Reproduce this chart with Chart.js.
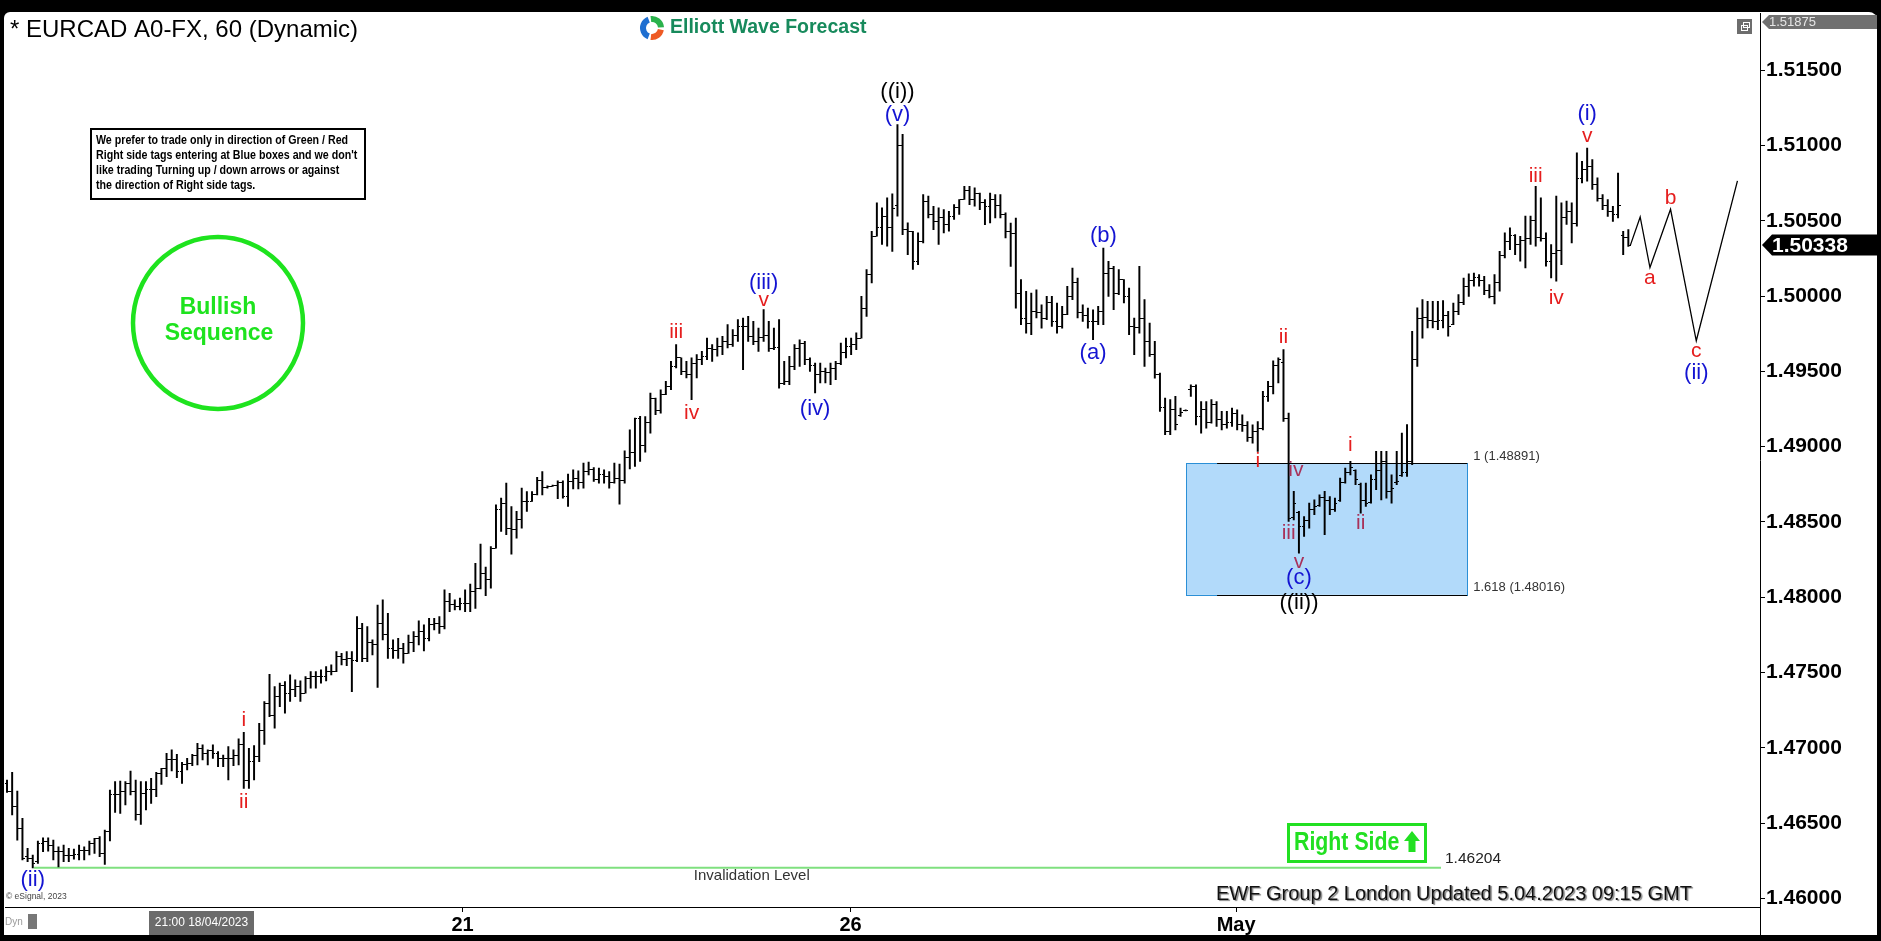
<!DOCTYPE html>
<html>
<head>
<meta charset="utf-8">
<title>EURCAD 60</title>
<script src="https://cdn.jsdelivr.net/npm/chart.js@4.4.1/dist/chart.umd.min.js"></script>
<style>
  html, body { margin: 0; padding: 0; background: #000; overflow: hidden; }
  canvas { display: block; }
</style>
</head>
<body>
<canvas id="chart" width="1881" height="941"></canvas>
<script>
// ---- hourly EURCAD bars, one entry per hour ----
const opens = [
  1.46765,1.46714,1.46610,1.46466,1.46278,1.46267,1.46245,1.46366,1.46377,1.46355,
  1.46311,1.46311,1.46289,1.46289,1.46293,1.46322,1.46322,1.46366,1.46400,1.46300,
  1.46444,1.46688,1.46688,1.46710,1.46765,1.46710,1.46555,1.46699,1.46721,1.46721,
  1.46832,1.46865,1.46920,1.46920,1.46843,1.46887,1.46898,1.46953,1.46998,1.46964,
  1.46980,1.46964,1.46927,1.46927,1.46931,1.46953,1.47024,1.46787,1.46909,1.46942,
  1.47119,1.47297,1.47215,1.47341,1.47414,1.47363,1.47385,1.47407,1.47363,1.47463,
  1.47474,1.47474,1.47474,1.47507,1.47507,1.47607,1.47584,1.47595,1.47580,1.47795,
  1.47595,1.47700,1.47684,1.47828,1.47750,1.47661,1.47650,1.47661,1.47628,1.47700,
  1.47739,1.47772,1.47728,1.47817,1.47828,1.47805,1.47971,1.47949,1.47938,1.47960,
  1.47960,1.48038,1.48060,1.48160,1.48115,1.48326,1.48580,1.48625,1.48459,1.48448,
  1.48519,1.48636,1.48636,1.48680,1.48775,1.48730,1.48738,1.48740,1.48760,1.48669,
  1.48770,1.48790,1.48760,1.48835,1.48850,1.48785,1.48815,1.48800,1.48760,1.48790,
  1.48775,1.48929,1.48960,1.49185,1.49010,1.49160,1.49323,1.49240,1.49345,1.49400,
  1.49530,1.49589,1.49500,1.49478,1.49555,1.49578,1.49600,1.49655,1.49644,1.49666,
  1.49700,1.49677,1.49740,1.49800,1.49800,1.49730,1.49700,1.49722,1.49740,1.49655,
  1.49660,1.49420,1.49430,1.49533,1.49655,1.49688,1.49580,1.49540,1.49480,1.49500,
  1.49490,1.49520,1.49555,1.49622,1.49666,1.49680,1.49721,1.49920,1.50142,1.50397,
  1.50452,1.50530,1.50452,1.50600,1.51000,1.50440,1.50430,1.50230,1.50360,1.50630,
  1.50541,1.50497,1.50519,1.50474,1.50530,1.50585,1.50641,1.50700,1.50640,1.50684,
  1.50620,1.50596,1.50640,1.50600,1.50540,1.50430,1.50418,1.50020,1.49850,1.49820,
  1.49900,1.49890,1.49850,1.49960,1.49830,1.49800,1.49880,1.50000,1.50090,1.49890,
  1.49870,1.49830,1.49830,1.49900,1.50150,1.50180,1.50020,1.50109,1.50000,1.49800,
  1.49790,1.49850,1.49700,1.49611,1.49480,1.49260,1.49100,1.49250,1.49210,1.49240,
  1.49380,1.49400,1.49200,1.49245,1.49160,1.49280,1.49180,1.49150,1.49160,1.49220,
  1.49145,1.49140,1.49060,1.49100,1.49120,1.49330,1.49400,1.49540,1.49560,1.49190,
  1.48530,1.48560,1.48470,1.48510,1.48580,1.48610,1.48660,1.48640,1.48580,1.48640,
  1.48760,1.48830,1.48840,1.48750,1.48640,1.48630,1.48780,1.48840,1.48900,1.48700,
  1.48760,1.48810,1.48830,1.48900,1.49580,1.49850,1.49860,1.49840,1.49830,1.49840,
  1.49870,1.49810,1.49900,1.49960,1.50060,1.50100,1.50120,1.50100,1.50040,1.50000,
  1.50090,1.50270,1.50360,1.50400,1.50340,1.50370,1.50380,1.50500,1.50390,1.50380,
  1.50230,1.50280,1.50300,1.50520,1.50560,1.50480,1.50780,1.50840,1.50860,1.50740,
  1.50650,1.50600,1.50560,1.50540,1.50400,1.50390
];
const highs = [
  1.46787,1.46838,1.46714,1.46532,1.46333,1.46289,1.46382,1.46404,1.46404,1.46388,
  1.46344,1.46355,1.46333,1.46329,1.46355,1.46344,1.46382,1.46400,1.46411,1.46455,
  1.46721,1.46776,1.46780,1.46776,1.46847,1.46787,1.46776,1.46776,1.46798,1.46838,
  1.46865,1.46964,1.46987,1.46958,1.46904,1.46931,1.46958,1.47031,1.47020,1.46987,
  1.47020,1.46976,1.46953,1.47009,1.46987,1.47060,1.47104,1.46998,1.47015,1.47164,
  1.47308,1.47489,1.47407,1.47430,1.47441,1.47485,1.47452,1.47445,1.47474,1.47507,
  1.47507,1.47518,1.47540,1.47551,1.47640,1.47628,1.47639,1.47639,1.47872,1.47828,
  1.47805,1.47717,1.47949,1.47983,1.47894,1.47717,1.47728,1.47695,1.47750,1.47772,
  1.47843,1.47817,1.47861,1.47861,1.47872,1.48049,1.48027,1.47983,1.47994,1.48049,
  1.48087,1.48226,1.48353,1.48200,1.48337,1.48614,1.48658,1.48758,1.48603,1.48570,
  1.48725,1.48702,1.48702,1.48796,1.48835,1.48740,1.48745,1.48773,1.48773,1.48818,
  1.48846,1.48840,1.48891,1.48897,1.48862,1.48858,1.48846,1.48835,1.48891,1.48884,
  1.48973,1.49112,1.49190,1.49201,1.49200,1.49356,1.49323,1.49378,1.49434,1.49566,
  1.49677,1.49589,1.49566,1.49589,1.49611,1.49633,1.49721,1.49677,1.49721,1.49733,
  1.49810,1.49777,1.49843,1.49854,1.49865,1.49832,1.49788,1.49910,1.49832,1.49788,
  1.49843,1.49566,1.49600,1.49677,1.49710,1.49699,1.49589,1.49555,1.49555,1.49522,
  1.49555,1.49566,1.49688,1.49721,1.49721,1.49755,1.49998,1.50176,1.50430,1.50619,
  1.50585,1.50652,1.50678,1.51139,1.51073,1.50486,1.50430,1.50419,1.50674,1.50663,
  1.50596,1.50585,1.50574,1.50563,1.50607,1.50641,1.50729,1.50729,1.50718,1.50684,
  1.50640,1.50684,1.50673,1.50673,1.50552,1.50485,1.50518,1.50109,1.50031,1.50020,
  1.50042,1.49942,1.49998,1.49998,1.49954,1.49931,1.50064,1.50186,1.50120,1.49942,
  1.49920,1.49909,1.49931,1.50319,1.50230,1.50197,1.50175,1.50109,1.50053,1.49854,
  1.50197,1.49976,1.49821,1.49699,1.49489,1.49323,1.49312,1.49334,1.49256,1.49245,
  1.49411,1.49411,1.49300,1.49300,1.49312,1.49300,1.49234,1.49234,1.49256,1.49245,
  1.49212,1.49167,1.49145,1.49167,1.49367,1.49434,1.49570,1.49589,1.49644,1.49223,
  1.48703,1.48570,1.48536,1.48625,1.48647,1.48680,1.48703,1.48669,1.48658,1.48791,
  1.48858,1.48902,1.48847,1.48758,1.48758,1.48813,1.48969,1.48969,1.48969,1.48813,
  1.48969,1.49090,1.49146,1.49766,1.49921,1.49976,1.49965,1.49965,1.49965,1.49970,
  1.49899,1.49954,1.50009,1.50120,1.50147,1.50153,1.50142,1.50131,1.50076,1.50142,
  1.50297,1.50419,1.50452,1.50408,1.50397,1.50530,1.50530,1.50729,1.50652,1.50419,
  1.50342,1.50663,1.50619,1.50630,1.50619,1.50951,1.50895,1.50983,1.50906,1.50784,
  1.50673,1.50640,1.50596,1.50817,1.50430,1.50441
];
const lows = [
  1.46705,1.46555,1.46388,1.46256,1.46245,1.46204,1.46234,1.46311,1.46315,1.46256,
  1.46210,1.46245,1.46245,1.46262,1.46256,1.46256,1.46289,1.46300,1.46278,1.46227,
  1.46382,1.46572,1.46566,1.46621,1.46688,1.46521,1.46493,1.46588,1.46632,1.46676,
  1.46758,1.46809,1.46847,1.46803,1.46765,1.46854,1.46882,1.46887,1.46920,1.46887,
  1.46931,1.46876,1.46876,1.46787,1.46882,1.46887,1.46732,1.46732,1.46787,1.46909,
  1.47024,1.47208,1.47131,1.47274,1.47230,1.47308,1.47341,1.47308,1.47363,1.47396,
  1.47396,1.47430,1.47445,1.47485,1.47507,1.47551,1.47546,1.47374,1.47573,1.47573,
  1.47573,1.47617,1.47402,1.47717,1.47595,1.47595,1.47595,1.47562,1.47628,1.47639,
  1.47684,1.47644,1.47710,1.47783,1.47761,1.47790,1.47905,1.47916,1.47916,1.47905,
  1.47905,1.47927,1.48056,1.48011,1.48060,1.48326,1.48437,1.48415,1.48286,1.48392,
  1.48459,1.48570,1.48636,1.48680,1.48680,1.48725,1.48736,1.48654,1.48658,1.48603,
  1.48720,1.48720,1.48725,1.48813,1.48769,1.48758,1.48758,1.48725,1.48758,1.48618,
  1.48758,1.48853,1.48869,1.48902,1.48964,1.49090,1.49212,1.49223,1.49345,1.49378,
  1.49522,1.49478,1.49456,1.49312,1.49456,1.49544,1.49578,1.49566,1.49600,1.49611,
  1.49655,1.49666,1.49699,1.49511,1.49699,1.49677,1.49633,1.49699,1.49633,1.49644,
  1.49389,1.49411,1.49411,1.49511,1.49533,1.49544,1.49500,1.49356,1.49423,1.49423,
  1.49411,1.49445,1.49544,1.49589,1.49611,1.49644,1.49721,1.49865,1.50087,1.50397,
  1.50342,1.50331,1.50297,1.50530,1.50408,1.50275,1.50176,1.50209,1.50353,1.50519,
  1.50441,1.50342,1.50419,1.50430,1.50508,1.50541,1.50641,1.50607,1.50596,1.50574,
  1.50474,1.50485,1.50518,1.50518,1.50385,1.50197,1.49920,1.49810,1.49754,1.49743,
  1.49854,1.49787,1.49843,1.49798,1.49754,1.49787,1.49876,1.49976,1.49854,1.49832,
  1.49787,1.49710,1.49810,1.49810,1.49998,1.49909,1.50009,1.49954,1.49743,1.49610,
  1.49754,1.49533,1.49599,1.49455,1.49234,1.49079,1.49079,1.49112,1.49201,1.49238,
  1.49334,1.49145,1.49090,1.49123,1.49156,1.49134,1.49112,1.49123,1.49134,1.49112,
  1.49101,1.49035,1.49023,1.48968,1.49112,1.49301,1.49350,1.49423,1.49168,1.48503,
  1.48514,1.48293,1.48404,1.48459,1.48548,1.48603,1.48415,1.48548,1.48570,1.48636,
  1.48758,1.48813,1.48747,1.48559,1.48603,1.48625,1.48714,1.48647,1.48658,1.48625,
  1.48747,1.48802,1.48802,1.48880,1.49533,1.49721,1.49788,1.49788,1.49777,1.49788,
  1.49733,1.49810,1.49876,1.49943,1.49998,1.50065,1.50065,1.50009,1.49987,1.49947,
  1.50032,1.50253,1.50308,1.50275,1.50231,1.50187,1.50342,1.50331,1.50364,1.50198,
  1.50120,1.50098,1.50209,1.50475,1.50353,1.50464,1.50751,1.50763,1.50707,1.50629,
  1.50574,1.50529,1.50496,1.50518,1.50275,1.50330
];
const closes = [
  1.46714,1.46610,1.46466,1.46267,1.46267,1.46234,1.46366,1.46377,1.46355,1.46311,
  1.46311,1.46289,1.46289,1.46293,1.46322,1.46322,1.46366,1.46400,1.46300,1.46444,
  1.46688,1.46688,1.46710,1.46765,1.46710,1.46555,1.46699,1.46721,1.46721,1.46832,
  1.46865,1.46920,1.46920,1.46843,1.46887,1.46898,1.46953,1.46998,1.46964,1.46980,
  1.46964,1.46927,1.46927,1.46931,1.46953,1.47024,1.46787,1.46909,1.46942,1.47119,
  1.47297,1.47215,1.47341,1.47414,1.47363,1.47385,1.47407,1.47363,1.47463,1.47474,
  1.47474,1.47474,1.47507,1.47507,1.47607,1.47584,1.47595,1.47580,1.47795,1.47595,
  1.47700,1.47684,1.47828,1.47750,1.47661,1.47650,1.47661,1.47628,1.47700,1.47739,
  1.47772,1.47728,1.47817,1.47828,1.47805,1.47971,1.47949,1.47938,1.47960,1.47960,
  1.48038,1.48060,1.48160,1.48115,1.48326,1.48580,1.48625,1.48459,1.48448,1.48519,
  1.48636,1.48636,1.48680,1.48775,1.48730,1.48738,1.48740,1.48760,1.48669,1.48770,
  1.48790,1.48760,1.48835,1.48850,1.48785,1.48815,1.48800,1.48760,1.48790,1.48775,
  1.48929,1.48960,1.49185,1.49010,1.49160,1.49323,1.49240,1.49345,1.49400,1.49530,
  1.49589,1.49500,1.49478,1.49555,1.49578,1.49600,1.49655,1.49644,1.49666,1.49700,
  1.49677,1.49740,1.49800,1.49800,1.49730,1.49700,1.49722,1.49740,1.49655,1.49660,
  1.49420,1.49430,1.49533,1.49655,1.49688,1.49580,1.49540,1.49480,1.49500,1.49490,
  1.49520,1.49555,1.49622,1.49666,1.49680,1.49721,1.49920,1.50142,1.50397,1.50452,
  1.50530,1.50452,1.50580,1.51000,1.50440,1.50430,1.50230,1.50360,1.50630,1.50541,
  1.50497,1.50519,1.50474,1.50530,1.50585,1.50641,1.50700,1.50640,1.50684,1.50620,
  1.50596,1.50640,1.50600,1.50540,1.50430,1.50418,1.50020,1.49850,1.49820,1.49900,
  1.49890,1.49850,1.49960,1.49830,1.49800,1.49880,1.50000,1.50090,1.49890,1.49870,
  1.49830,1.49830,1.49900,1.50150,1.50180,1.50020,1.50109,1.50000,1.49800,1.49790,
  1.49850,1.49700,1.49611,1.49480,1.49260,1.49100,1.49250,1.49145,1.49230,1.49242,
  1.49400,1.49200,1.49245,1.49160,1.49280,1.49180,1.49150,1.49160,1.49220,1.49145,
  1.49140,1.49060,1.49100,1.49120,1.49330,1.49400,1.49540,1.49580,1.49190,1.48520,
  1.48620,1.48470,1.48510,1.48580,1.48600,1.48660,1.48640,1.48580,1.48620,1.48760,
  1.48830,1.48860,1.48780,1.48640,1.48620,1.48780,1.48840,1.48900,1.48700,1.48720,
  1.48770,1.48830,1.48900,1.49580,1.49850,1.49860,1.49840,1.49830,1.49840,1.49870,
  1.49800,1.49900,1.49960,1.50060,1.50100,1.50120,1.50100,1.50040,1.50000,1.50090,
  1.50270,1.50360,1.50400,1.50340,1.50370,1.50380,1.50500,1.50390,1.50380,1.50230,
  1.50280,1.50300,1.50520,1.50560,1.50480,1.50780,1.50840,1.50860,1.50740,1.50650,
  1.50600,1.50560,1.50540,1.50600,1.50390,1.50338
];

// axis labelling
const priceTicks = [1.46000, 1.46500, 1.47000, 1.47500, 1.48000, 1.48500,
                    1.49000, 1.49500, 1.50000, 1.50500, 1.51000, 1.51500];
const dayLabels = ['21', '26', 'May'];
const dayStartBar = [88.5, 163.9, 238.8];
const scaleTop = 1.51875;
const scaleBottom = 1.45944;

// projected a-b-c path for wave (ii), in bar units and prices
const projBars = [315.4, 317.3, 319.2, 323.2, 328.2, 336.2];
const projPrices = [1.50338, 1.50525, 1.50189, 1.50576, 1.49703, 1.50764];

// extension area and invalidation level
const extLevels = [1.48891, 1.48016];
const extNames = ['1', '1.618'];
const invalidationLevel = 1.46204;

// wave labels: text, bar, anchored at the bar's high or low, gap in px, degree
const waveLabels = [
  ['(ii)', 5, 'low', 12, 'minor'],
  ['i', 46, 'high', 12, 'sub'],
  ['ii', 46, 'low', 14, 'sub'],
  ['iii', 130, 'high', 12, 'sub'],
  ['iv', 133, 'low', 14, 'sub'],
  ['v', 147, 'high', 9, 'sub'],
  ['(iii)', 147, 'high', 27, 'minor'],
  ['(iv)', 157, 'low', 16, 'minor'],
  ['(v)', 173, 'high', 10, 'minor'],
  ['((i))', 173, 'high', 33, 'major'],
  ['(a)', 211, 'low', 13, 'minor'],
  ['(b)', 213, 'high', 12, 'minor'],
  ['i', 243, 'low', 10, 'sub'],
  ['ii', 248, 'high', 12, 'sub'],
  ['iii', 249, 'low', 12, 'subIn'],
  ['iv', 250.4, 'high', 21, 'subIn'],
  ['v', 251, 'low', 9, 'subIn'],
  ['(c)', 251, 'low', 25, 'minor'],
  ['((ii))', 251, 'low', 50, 'major'],
  ['i', 261, 'high', 16, 'sub'],
  ['ii', 263, 'low', 10, 'subIn'],
  ['iii', 297, 'high', 10, 'sub'],
  ['iv', 301, 'low', 17, 'sub'],
  ['v', 307, 'high', 12, 'sub'],
  ['(i)', 307, 'high', 34, 'minor']
];
// labels on the projected path: text, path point, side, gap, degree
const projLabels = [
  ['a', 2, 'low', 11, 'sub'],
  ['b', 3, 'high', 11, 'sub'],
  ['c', 4, 'low', 10, 'sub'],
  ['(ii)', 4, 'low', 32, 'minor']
];

const noteLines = [
  'We prefer to trade only in direction of Green / Red',
  "Right side tags entering at Blue boxes and we don't",
  'like trading Turning up / down arrows or against',
  'the direction of Right side tags.'
];

// ---- drawing helpers ----
const FONT = '"Liberation Sans", Arial, Helvetica, sans-serif';
const degreeStyle = {
  major: { color: '#000000', size: 22 },
  minor: { color: '#1414d2', size: 22 },
  sub:   { color: '#e51e1e', size: 21 },
  subIn: { color: '#a8325a', size: 21 }
};

function hasFont(name) {
  const g = document.createElement('canvas').getContext('2d');
  const s = 'mmmmmmmmmmlli WQ 0123456789';
  g.font = '40px monospace';
  const a = g.measureText(s).width;
  g.font = '40px "' + name + '", monospace';
  const b = g.measureText(s).width;
  return Math.abs(a - b) > 0.5;
}
const NARROW = hasFont('Liberation Sans Narrow') ? '"Liberation Sans Narrow"' : null;

function text(ctx, s, x, y, font, color, align) {
  ctx.font = font;
  ctx.fillStyle = color;
  ctx.textAlign = align || 'left';
  ctx.textBaseline = 'middle';
  ctx.fillText(s, x, y);
}
function narrowText(ctx, s, x, y, px, bold, color, align) {
  ctx.save();
  ctx.fillStyle = color;
  ctx.textAlign = align || 'left';
  ctx.textBaseline = 'middle';
  if (NARROW) {
    ctx.font = (bold ? 'bold ' : '') + px + 'px ' + NARROW;
    ctx.fillText(s, x, y);
  } else {
    ctx.translate(x, y);
    ctx.scale(0.82, 1);
    ctx.font = (bold ? 'bold ' : '') + px + 'px ' + FONT;
    ctx.fillText(s, 0, 0);
  }
  ctx.restore();
}

// open / close tick marks drawn as point images beside each bar
function tickImage(side) {
  const c = document.createElement('canvas');
  c.width = 5; c.height = 1;
  const g = c.getContext('2d');
  g.fillStyle = '#000';
  if (side === 'left') g.fillRect(0, 0, 2, 1); else g.fillRect(3, 0, 2, 1);
  return c;
}

// window frame: black border with a white chart panel
const framePlugin = {
  id: 'frame',
  beforeDraw(chart) {
    const ctx = chart.ctx;
    ctx.save();
    ctx.fillStyle = '#000';
    ctx.fillRect(0, 0, chart.width, chart.height);
    ctx.fillStyle = '#fff';
    ctx.beginPath();
    ctx.roundRect(4, 12, 1873, 923, [6, 8, 0, 0]);
    ctx.fill();
    ctx.restore();
  }
};

// extension box, fib lines and invalidation line under the bars
const levelsPlugin = {
  id: 'levels',
  beforeDatasetsDraw(chart) {
    const { ctx, scales: { x, y } } = chart;
    ctx.save();
    const bx0 = x.getPixelForValue(229.1), bx1 = x.getPixelForValue(283.7);
    const fx0 = x.getPixelForValue(235.1);
    const yTop = y.getPixelForValue(extLevels[0]), yBot = y.getPixelForValue(extLevels[1]);
    ctx.fillStyle = '#b2dafa';
    ctx.fillRect(bx0, yTop, bx1 - bx0, yBot - yTop);
    ctx.strokeStyle = '#2b8fd6';
    ctx.lineWidth = 1;
    ctx.strokeRect(Math.round(bx0) + 0.5, Math.round(yTop) + 0.5, Math.round(bx1 - bx0), Math.round(yBot - yTop));
    ctx.strokeStyle = '#000';
    ctx.beginPath();
    extLevels.forEach(v => {
      const yy = Math.round(y.getPixelForValue(v)) + 0.5;
      ctx.moveTo(fx0, yy); ctx.lineTo(bx1, yy);
    });
    ctx.stroke();
    extLevels.forEach((v, i) => {
      text(ctx, extNames[i] + ' (' + v.toFixed(5) + ')', bx1 + 6, y.getPixelForValue(v) - 7,
           '13px ' + FONT, '#333', 'left');
    });

    // invalidation level
    const iy = y.getPixelForValue(invalidationLevel);
    const ix0 = x.getPixelForValue(5.2), ix1 = x.getPixelForValue(278.6);
    ctx.strokeStyle = '#7fe07f';
    ctx.lineWidth = 2;
    ctx.beginPath();
    ctx.moveTo(ix0, iy); ctx.lineTo(ix1, iy);
    ctx.stroke();
    text(ctx, invalidationLevel.toFixed(5), ix1 + 4, iy - 9, '15.5px ' + FONT, '#222', 'left');
    text(ctx, 'Invalidation Level', x.getPixelForValue(144.7), iy + 8, '15px ' + FONT, '#333', 'center');
    ctx.restore();
  }
};

// wave labels, notes, tags and other overlays
const overlayPlugin = {
  id: 'overlay',
  afterDatasetsDraw(chart) {
    const { ctx, scales: { x, y }, chartArea } = chart;
    ctx.save();

    // wave counts on the bars
    waveLabels.forEach(([t, bar, side, gap, deg]) => {
      const st = degreeStyle[deg];
      const i = Math.round(bar);
      const py = side === 'high' ? y.getPixelForValue(highs[i]) - gap : y.getPixelForValue(lows[i]) + gap;
      text(ctx, t, x.getPixelForValue(bar), py, st.size + 'px ' + FONT, st.color, 'center');
    });
    projLabels.forEach(([t, k, side, gap, deg]) => {
      const st = degreeStyle[deg];
      const py = y.getPixelForValue(projPrices[k]) + (side === 'high' ? -gap : gap);
      text(ctx, t, x.getPixelForValue(projBars[k]), py, st.size + 'px ' + FONT, st.color, 'center');
    });

    // title
    text(ctx, '* EURCAD A0-FX, 60 (Dynamic)', 10, 30, '24px ' + FONT, '#000', 'left');

    // logo
    const lx = 652, ly = 28;
    ctx.lineWidth = 6;
    ctx.lineCap = 'butt';
    [['#1f6fd1', 0.62, 1.38], ['#2bb24c', 1.46, 1.98], ['#ee5a24', 0.06, 0.54]].forEach(([c, a0, a1]) => {
      ctx.strokeStyle = c;
      ctx.beginPath();
      ctx.arc(lx, ly, 9, a0 * Math.PI, a1 * Math.PI);
      ctx.stroke();
    });
    text(ctx, 'Elliott Wave Forecast', 670, 28, 'bold 19.5px ' + FONT, '#178a5c', 'left');

    // trading note
    ctx.fillStyle = '#fff';
    ctx.fillRect(91, 129, 274, 70);
    ctx.strokeStyle = '#000';
    ctx.lineWidth = 2;
    ctx.strokeRect(91, 129, 274, 70);
    noteLines.forEach((s, k) => narrowText(ctx, s, 96, 140 + k * 15.3, 13, true, '#000', 'left'));

    // bullish sequence badge
    ctx.strokeStyle = '#1ee31e';
    ctx.lineWidth = 4.5;
    ctx.beginPath();
    ctx.ellipse(218, 323, 85, 86, 0, 0, Math.PI * 2);
    ctx.stroke();
    text(ctx, 'Bullish', 218, 308, 'bold 23px ' + FONT, '#1ee31e', 'center');
    text(ctx, 'Sequence', 219, 334, 'bold 23px ' + FONT, '#1ee31e', 'center');

    // right side tag
    ctx.fillStyle = '#fff';
    ctx.fillRect(1288, 824, 138, 38);
    ctx.strokeStyle = '#22e022';
    ctx.lineWidth = 3;
    ctx.strokeRect(1288.5, 824.5, 137, 37);
    narrowText(ctx, 'Right Side', 1294, 843, 26, true, '#22e022', 'left');
    ctx.fillStyle = '#22e022';
    ctx.beginPath();
    ctx.moveTo(1412, 831); ctx.lineTo(1420, 841); ctx.lineTo(1415.5, 841); ctx.lineTo(1415.5, 852);
    ctx.lineTo(1408.5, 852); ctx.lineTo(1408.5, 841); ctx.lineTo(1404, 841); ctx.closePath();
    ctx.fill();

    // update stamp
    ctx.save();
    ctx.shadowColor = 'rgba(110,110,110,0.85)';
    ctx.shadowOffsetX = 1.5; ctx.shadowOffsetY = 1.5; ctx.shadowBlur = 1;
    text(ctx, 'EWF Group 2 London Updated 5.04.2023 09:15 GMT', 1216, 894, '20px ' + FONT, '#111', 'left');
    ctx.restore();

    text(ctx, '\u00a9 eSignal, 2023', 6, 897, '8.5px ' + FONT, '#444', 'left');

    // axis extension below the plot and small window widgets
    ctx.strokeStyle = '#000';
    ctx.lineWidth = 1;
    ctx.beginPath();
    ctx.moveTo(Math.round(chartArea.right) + 0.5, chartArea.bottom);
    ctx.lineTo(Math.round(chartArea.right) + 0.5, 935);
    ctx.stroke();

    ctx.fillStyle = '#6d6d6d';
    ctx.fillRect(1737, 19, 15, 15);
    ctx.strokeStyle = '#fff';
    ctx.strokeRect(1741.5, 25.5, 6, 5);
    ctx.strokeRect(1743.5, 22.5, 6, 5);

    // cursor time stamp and status on the time axis
    ctx.fillStyle = '#6b6b6b';
    ctx.fillRect(149, 911, 105, 24);
    text(ctx, '21:00 18/04/2023', 201.5, 923, '12px ' + FONT, '#fff', 'center');
    text(ctx, 'Dyn', 5, 922, '10px ' + FONT, '#9a9a9a', 'left');
    ctx.fillStyle = '#777';
    ctx.fillRect(28, 914, 9, 15);

    // price tags on the right axis
    const tagX = chartArea.right + 2;
    ctx.fillStyle = '#707070';
    ctx.beginPath();
    ctx.moveTo(tagX, 22); ctx.lineTo(tagX + 7, 15); ctx.lineTo(1877, 15); ctx.lineTo(1877, 29); ctx.lineTo(tagX + 7, 29);
    ctx.closePath(); ctx.fill();
    text(ctx, scaleTop.toFixed(5), tagX + 7, 22.5, '13px ' + FONT, '#e6e6e6', 'left');

    const last = closes[closes.length - 1];
    const ly2 = y.getPixelForValue(last);
    ctx.fillStyle = '#000';
    ctx.beginPath();
    ctx.moveTo(tagX, ly2); ctx.lineTo(tagX + 10, ly2 - 10.5); ctx.lineTo(1877, ly2 - 10.5);
    ctx.lineTo(1877, ly2 + 10.5); ctx.lineTo(tagX + 10, ly2 + 10.5); ctx.closePath(); ctx.fill();
    text(ctx, last.toFixed(5), tagX + 10, ly2 + 1, 'bold 21px ' + FONT, '#fff', 'left');

    ctx.restore();
  }
};

const barIdx = highs.map((_, i) => i);

new Chart(document.getElementById('chart'), {
  type: 'bar',
  data: {
    datasets: [
      {
        type: 'line',
        data: projBars.map((b, k) => ({ x: b, y: projPrices[k] })),
        borderColor: '#000',
        borderWidth: 1.3,
        pointRadius: 0,
        tension: 0,
        fill: false
      },
      {
        type: 'scatter',
        data: barIdx.map(i => ({ x: i, y: opens[i] })),
        pointStyle: tickImage('left'),
        pointRadius: 1
      },
      {
        type: 'scatter',
        data: barIdx.map(i => ({ x: i, y: closes[i] })),
        pointStyle: tickImage('right'),
        pointRadius: 1
      },
      {
        type: 'bar',
        data: barIdx.map(i => ({ x: i, y: [lows[i], highs[i]] })),
        backgroundColor: '#000',
        borderWidth: 0,
        barThickness: 1.3,
        grouped: false
      }
    ]
  },
  options: {
    responsive: false,
    maintainAspectRatio: false,
    devicePixelRatio: 1,
    animation: false,
    events: [],
    layout: { padding: { left: 4, top: 12, right: 4, bottom: 6 } },
    plugins: { legend: { display: false }, tooltip: { enabled: false } },
    scales: {
      x: {
        type: 'linear',
        min: -0.39,
        max: 340.58,
        offset: false,
        grid: { display: true, offset: false, drawOnChartArea: false, drawTicks: true, tickLength: 5, color: '#000' },
        border: { display: true, color: '#000', width: 1 },
        ticks: {
          font: { family: FONT, size: 20, weight: 'bold' },
          color: '#000',
          padding: 1,
          maxRotation: 0,
          autoSkip: false,
          callback: (v, i) => dayLabels[i]
        },
        afterBuildTicks: axis => { axis.ticks = dayStartBar.map(v => ({ value: v })); },
        afterFit: axis => { axis.height = 28; }
      },
      y: {
        type: 'linear',
        position: 'right',
        min: scaleBottom,
        max: scaleTop,
        grid: { display: true, drawOnChartArea: false, drawTicks: true, tickLength: 5, color: '#000' },
        border: { display: true, color: '#000', width: 1 },
        ticks: {
          font: { family: FONT, size: 21, weight: 'bold' },
          color: '#000',
          padding: 1,
          callback: v => Number(v).toFixed(5)
        },
        afterBuildTicks: axis => { axis.ticks = priceTicks.map(v => ({ value: v })); },
        afterFit: axis => { axis.width = 117; }
      }
    }
  },
  plugins: [framePlugin, levelsPlugin, overlayPlugin]
});
</script>
</body>
</html>
